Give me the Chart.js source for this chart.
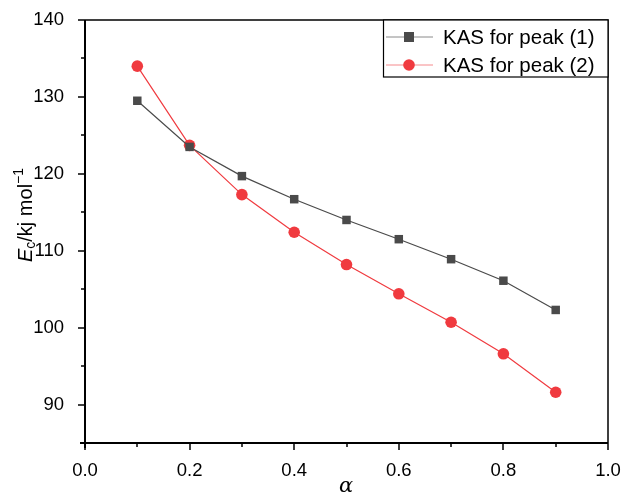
<!DOCTYPE html>
<html><head><meta charset="utf-8">
<script src="https://cdn.jsdelivr.net/npm/chart.js@4/dist/chart.umd.min.js"></script>
<style>html,body{margin:0;padding:0;background:#fff}#wrap{width:623px;height:495px}</style>
</head><body><div id="wrap"><canvas id="c" width="623" height="495"></canvas></div>
<script>
const alphaValues = [0.1, 0.2, 0.3, 0.4, 0.5, 0.6, 0.7, 0.8, 0.9];
const peak1 = [129.5, 123.5, 119.7, 116.7, 114.0, 111.5, 108.9, 106.1, 102.3];
const peak2 = [134.0, 123.7, 117.3, 112.4, 108.2, 104.4, 100.7, 96.6, 91.6];
const seriesNames = ['KAS for peak (1)', 'KAS for peak (2)'];
const xTicks = [0.0, 0.2, 0.4, 0.6, 0.8, 1.0];
const yTicks = [90, 100, 110, 120, 130, 140];

const FONT = '"Liberation Sans", Arial, sans-serif';
const grey = '#4a4a4a', red = '#f03a3f';

const framePlugin = {
  id: 'frame',
  afterDraw(chart) {
    const ctx = chart.ctx, a = chart.chartArea;
    const xs = chart.scales.x, ys = chart.scales.y;
    ctx.save();
    ctx.strokeStyle = '#000';
    ctx.lineWidth = 1.5;
    ctx.beginPath();
    ctx.moveTo(a.left, a.top); ctx.lineTo(a.right, a.top); ctx.lineTo(a.right, a.bottom);
    ctx.stroke();
    ctx.lineWidth = 2;
    ctx.beginPath();
    ctx.moveTo(a.left, a.top); ctx.lineTo(a.left, a.bottom + 5);
    ctx.moveTo(a.left - 5, a.bottom); ctx.lineTo(a.right, a.bottom);
    ctx.stroke();
    ctx.lineWidth = 1.5;
    ctx.beginPath();
    for (let v = 90; v <= 140.001; v += 5) {
      const y = Math.round(ys.getPixelForValue(v));
      const major = Math.abs(v % 10) < 0.001;
      ctx.moveTo(a.left, y); ctx.lineTo(a.left - (major ? 7 : 4), y);
    }
    for (let i = 0; i <= 10; i++) {
      const v = i / 10;
      const x = Math.round(xs.getPixelForValue(v));
      const major = i % 2 === 0;
      ctx.moveTo(x, a.bottom); ctx.lineTo(x, a.bottom + (major ? 7 : 4));
    }
    ctx.stroke();

    // y title
    ctx.fillStyle = '#000';
    ctx.translate(26, 215);
    ctx.rotate(-Math.PI / 2);
    const parts = [
      {t: 'E', f: 'italic 20px ' + FONT, dy: 0},
      {t: 'c', f: '14px ' + FONT, dy: 5},
      {t: '/kj mol', f: '20px ' + FONT, dy: 0},
      {t: '\u22121', f: '14px ' + FONT, dy: -7}
    ];
    let w = 0;
    parts.forEach(p => { ctx.font = p.f; p.w = ctx.measureText(p.t).width; w += p.w; });
    let x = -w / 2;
    ctx.textBaseline = 'middle';
    parts.forEach(p => { ctx.font = p.f; ctx.fillText(p.t, x, p.dy); x += p.w; });
    ctx.restore();

    // x title
    ctx.save();
    ctx.fillStyle = '#000';
    ctx.font = 'italic 21px "DejaVu Serif", "Liberation Serif", serif';
    ctx.textAlign = 'center'; ctx.textBaseline = 'middle';
    ctx.fillText('\u03b1', 346, 487);
    ctx.restore();

    // legend
    ctx.save();
    const lx = 383, ly = a.top, lw = a.right - lx, lh = 57;
    ctx.fillStyle = '#fff';
    ctx.fillRect(lx, ly, lw, lh);
    ctx.strokeStyle = '#000'; ctx.lineWidth = 1.2;
    ctx.strokeRect(lx + 0.5, ly, lw - 0.5, lh);
    chart.data.datasets.forEach((ds, i) => {
      const cy = ly + 17 + i * 28;
      ctx.strokeStyle = ds.legendLine; ctx.lineWidth = 1;
      ctx.beginPath(); ctx.moveTo(386, cy); ctx.lineTo(433, cy); ctx.stroke();
      ctx.fillStyle = ds.pointBackgroundColor;
      if (ds.pointStyle === 'rect') ctx.fillRect(409 - 5, cy - 5, 10, 10);
      else { ctx.beginPath(); ctx.arc(409, cy, 5.8, 0, Math.PI * 2); ctx.fill(); }
      ctx.fillStyle = '#000';
      ctx.font = '20.5px ' + FONT;
      ctx.textBaseline = 'middle';
      ctx.fillText(ds.label, 443, cy + 1);
    });
    ctx.restore();
  }
};

new Chart(document.getElementById('c'), {
  type: 'scatter',
  data: {
    datasets: [
      {
        label: seriesNames[0],
        data: alphaValues.map((a, i) => ({x: a, y: peak1[i]})),
        showLine: true, borderColor: grey, borderWidth: 1.2,
        pointStyle: 'rect', pointRadius: 6, pointHoverRadius: 6,
        pointBackgroundColor: grey, pointBorderColor: grey, pointBorderWidth: 0,
        legendLine: '#8a8a8a'
      },
      {
        label: seriesNames[1],
        data: alphaValues.map((a, i) => ({x: a, y: peak2[i]})),
        showLine: true, borderColor: red, borderWidth: 1.2,
        pointStyle: 'circle', pointRadius: 5.8, pointHoverRadius: 5.8,
        pointBackgroundColor: red, pointBorderColor: red, pointBorderWidth: 0,
        legendLine: '#f58a8d'
      }
    ]
  },
  options: {
    responsive: false, animation: false,
    layout: {padding: {left: 0, top: 20, right: 15, bottom: 0}},
    plugins: {legend: {display: false}, tooltip: {enabled: false}},
    scales: {
      x: {
        type: 'linear', min: 0, max: 1,
        afterFit(s) { s.height = 52; s.paddingRight = 0; s.paddingLeft = 0; },
        afterBuildTicks(s) { s.ticks = xTicks.map(v => ({value: v})); },
        grid: {display: false}, border: {display: false},
        ticks: {padding: 9, color: '#000', font: {family: FONT, size: 18.5},
          callback: v => Number(v).toFixed(1), maxRotation: 0, autoSkip: false}
      },
      y: {
        type: 'linear', min: 85, max: 140,
        afterFit(s) { s.width = 85; s.paddingTop = 0; s.paddingBottom = 0; },
        afterBuildTicks(s) { s.ticks = yTicks.map(v => ({value: v})); },
        grid: {display: false}, border: {display: false},
        ticks: {padding: 13, color: '#000', font: {family: FONT, size: 18.5}, autoSkip: false}
      }
    }
  },
  plugins: [framePlugin]
});
</script></body></html>
